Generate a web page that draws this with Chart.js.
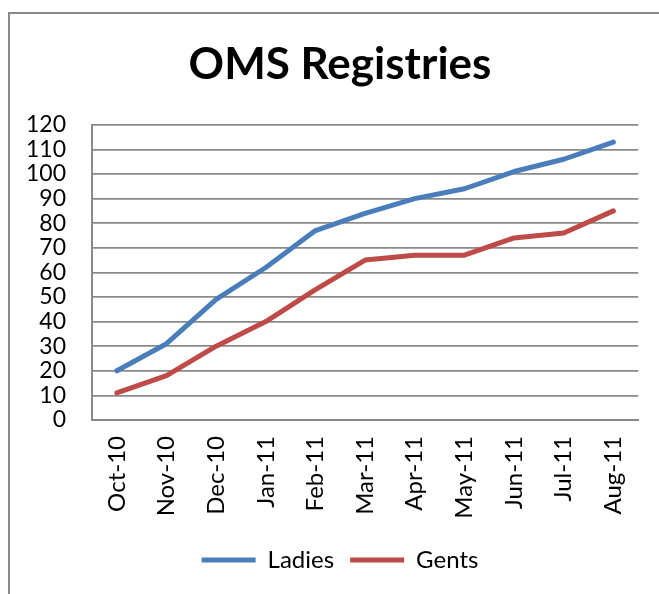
<!DOCTYPE html>
<html>
<head>
<meta charset="utf-8">
<script src="https://cdn.jsdelivr.net/npm/chart.js@4.4.1/dist/chart.umd.min.js"></script>
<style>
  html, body { margin: 0; padding: 0; background: #fff; overflow: hidden; }
  #wrap { position: relative; width: 659px; height: 594px; }
  #frame { position: absolute; left: 8px; top: 12px; right: -4px; bottom: -4px;
           border-left: 2px solid #8a8a8a; border-top: 2px solid #8a8a8a; }
  canvas { position: absolute; left: 0; top: 0; }
</style>
</head>
<body>
<div id="wrap">
  <div id="frame"></div>
  <canvas id="chart" width="659" height="594"></canvas>
</div>
<script>
// months on the x axis
const months = ['Oct-10', 'Nov-10', 'Dec-10', 'Jan-11', 'Feb-11', 'Mar-11',
                'Apr-11', 'May-11', 'Jun-11', 'Jul-11', 'Aug-11'];
// registrations
const ladies = [20, 31, 49, 62, 77, 84, 90, 94, 101, 106, 113];
const gents  = [11, 18, 30, 40, 53, 65, 67, 67, 74, 76, 85];

const FONT = 'Lato, "Open Sans", sans-serif';
const gridGrey = '#8a8a8a';
const Y_FONT = 23;

const canvas = document.getElementById('chart');
const ctx = canvas.getContext('2d');

// y labels are drawn "mirrored" so they are not clipped to the narrow axis box;
// push them back left of the axis by the widest label + a gap
ctx.font = Y_FONT + 'px ' + FONT;
const widest = ctx.measureText('120').width;

new Chart(ctx, {
  type: 'line',
  data: {
    labels: months,
    datasets: [
      { label: 'Ladies', data: ladies, borderColor: '#4a7ebb', backgroundColor: '#4a7ebb',
        borderWidth: 5, pointRadius: 0, tension: 0, borderCapStyle: 'round', borderJoinStyle: 'round' },
      { label: 'Gents', data: gents, borderColor: '#be4b48', backgroundColor: '#be4b48',
        borderWidth: 5, pointRadius: 0, tension: 0, borderCapStyle: 'round', borderJoinStyle: 'round' }
    ]
  },
  options: {
    responsive: false,
    animation: false,
    // left/right padding differ so title and legend centre near x=340 like the original
    layout: { padding: { left: 39, right: 18, top: 0, bottom: 12 } },
    plugins: {
      title: {
        display: true,
        text: 'OMS Registries',
        color: '#000',
        font: { family: FONT, size: 44, weight: 'bold' },
        padding: { top: 38, bottom: 34 }
      },
      legend: {
        position: 'bottom',
        labels: {
          usePointStyle: true,
          pointStyle: 'line',
          pointStyleWidth: 54,
          color: '#000',
          font: { family: FONT, size: 24 },
          padding: 16
        }
      },
      tooltip: { enabled: false }
    },
    scales: {
      x: {
        offset: true,
        grid: { display: false, drawTicks: false },
        border: { display: true, color: gridGrey, width: 2 },
        ticks: { color: '#000', font: { family: FONT, size: 24 }, minRotation: 90, maxRotation: 90,
                 autoSkip: false, padding: 16 },
        afterFit: s => { s.height = 112; }
      },
      y: {
        min: 0, max: 120,
        grid: { color: gridGrey, lineWidth: 1.8, drawTicks: false },
        border: { display: true, color: gridGrey, width: 2 },
        ticks: { stepSize: 10, autoSkip: false, color: '#000', font: { family: FONT, size: Y_FONT },
                 mirror: true, crossAlign: 'far', padding: -(widest + 26) },
        afterFit: s => { s.width = 53; }
      }
    }
  }
});
</script>
</body>
</html>
